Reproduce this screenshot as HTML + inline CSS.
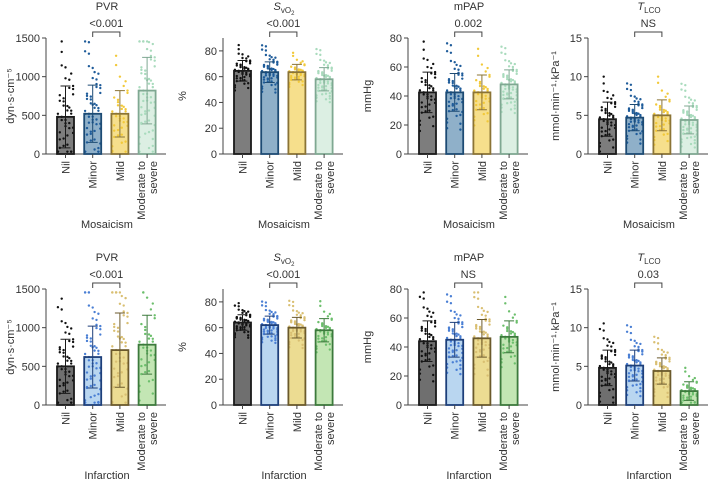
<!DOCTYPE html>
<html><head><meta charset="utf-8">
<style>
body{margin:0;background:#fff;}
svg{display:block;font-family:"Liberation Sans",sans-serif;}
</style></head>
<body>
<svg id="chart" width="712" height="485" viewBox="0 0 712 485"></svg>
<script>
const categories = ["Nil","Minor","Mild","Moderate to severe"];
const panelTitles = ["PVR","SvO2","mPAP","TLCO"];
const yMax = [1500, 90, 80, 15];
const yTicks = [[0,500,1000,1500],[0,20,40,60,80],[0,20,40,60,80],[0,5,10,15]];
const yTitles = ["dyn·s·cm⁻⁵","%","mmHg","mmol·min⁻¹·kPa⁻¹"];
const groupTitles = ["Mosaicism","Infarction"];
const pValues = [["<0.001","<0.001","0.002","NS"],["<0.001","<0.001","NS","0.03"]];
// row 0 = mosaicism, row 1 = infarction
const meansMos = [[480,520,520,820],[64.5,63.5,63.5,58],[42.5,42.5,42.5,48],[4.5,4.7,5.0,4.4]];
const sdMos = [[400,370,300,430],[8,8,6,9],[14,13,12,10],[2.2,1.7,2.0,1.8]];
const meansInf = [[500,620,710,780],[64,62,60,58],[44,45,46,47],[4.8,5.1,4.4,1.8]];
const sdInf = [[350,400,480,380],[6,7,8,9],[14,12,13,11],[2.3,2.0,1.7,1.2]];
const dotCounts = [[45,55,40,60],[50,60,55,40]];
const zPattern = [-1.6,-1.2,-0.9,-0.7,-0.5,-0.35,-0.2,-0.1,0,0.1,0.2,0.35,0.5,0.7,0.9,1.2,1.6,2.1,-1.9,1.4,-0.6,0.6,-1.0,1.0,0.3,-0.3,2.5,-1.4];

const fills = [["#7d7d7d","#8fb0c9","#f6df8c","#dcefe3"],["#6f6f6f","#b9d6f0","#ecdc92","#c3e6b4"]];
const strokes = [["#1a1a1a","#1d4b74","#8b7436","#7fa892"],["#1a1a1a","#1d3f7a","#6b5a2c","#3c7a3c"]];
const dotCols = [["#111","#1f5c9a","#f2c93a","#a9dbbd"],["#111","#4a7fd4","#d9bf72","#6cbf6c"]];

const axisX = [46,223,408,588];
const rowTop = [38,289], rowBot = [154,405];
const svg = document.getElementById('chart');
const NS = "http://www.w3.org/2000/svg";
function mk(tag, attrs, parent){const e=document.createElementNS(NS,tag);for(const k in attrs)e.setAttribute(k,attrs[k]);(parent||svg).appendChild(e);return e;}

for(let r=0;r<2;r++){
  const means = r===0?meansMos:meansInf, sds = r===0?sdMos:sdInf;
  for(let p=0;p<4;p++){
    const g = mk('g',{});
    
    
    const ax = axisX[p], top=rowTop[r], bot=rowBot[r];
    const yS = v => bot - v/yMax[p]*(bot - top);
    const topPix = yS(yMax[p]);
    const xC = i => ax + 19.5 + i*27.2;
    const t = mk('text',{x:ax+61,y:top-28,'text-anchor':'middle','font-size':11,fill:'#333'},g);
    
    
    if(p===1){t.innerHTML='<tspan font-style="italic">S</tspan><tspan font-size="8" dy="3">vO</tspan><tspan font-size="6" dy="2">2</tspan>';}
    else if(p===3){t.innerHTML='<tspan font-style="italic">T</tspan><tspan font-size="8" dy="3">LCO</tspan>';}
    else t.textContent=panelTitles[p];
    const ya = mk('line',{x1:ax,x2:ax,y1:topPix,y2:bot,stroke:'#444','stroke-width':1},g);
    
    const xa = mk('line',{x1:ax,x2:ax+120,y1:bot,y2:bot,stroke:'#444','stroke-width':1},g);
    
    yTicks[p].forEach(v=>{
      mk('line',{x1:ax-4,x2:ax,y1:yS(v),y2:yS(v),stroke:'#444'},g);
      const tl = mk('text',{x:ax-6,y:yS(v)+4,'text-anchor':'end','font-size':11,fill:'#333'},g);
      
      tl.textContent=v;
    });
    const yt = mk('text',{transform:`translate(${ax-(p===3?29:p===0?32:37)},${(top+bot)/2}) rotate(-90)`,'text-anchor':'middle','font-size':11,fill:'#333'},g);
    
    yt.textContent=yTitles[p];
    for(let i=0;i<4;i++){
      const m = means[p][i], sd = sds[p][i], xc=xC(i);
      const b = mk('rect',{x:xc-8.5,y:yS(m),width:17,height:bot-yS(m),fill:fills[r][i]},g);
      
      
      const n = dotCounts[r][i];
      for(let k=0;k<n;k++){
        let v = m + sd*zPattern[k%zPattern.length]*(1+0.04*Math.floor(k/zPattern.length));
        v = Math.max(yMax[p]*0.02, Math.min(v, yMax[p]*0.97));
        const dx = (((k*7)%9)-4)*1.9;
        const d = mk('circle',{cx:xc+dx,cy:yS(v),r:1.2,fill:dotCols[r][i]},g);
        
        
      }
      mk('rect',{x:xc-8.5,y:yS(m),width:17,height:bot-yS(m),fill:'none',stroke:strokes[r][i],'stroke-width':1.8},g);
      const e1=yS(m+sd), e0=yS(Math.max(0,m-sd));
      const eb = mk('path',{d:`M${xc},${e0}V${e1}M${xc-5},${e1}H${xc+5}M${xc-5},${e0}H${xc+5}`,stroke:strokes[r][i],'stroke-width':1,fill:'none'},g);
      
      mk('line',{x1:xc,x2:xc,y1:bot,y2:bot+4,stroke:'#444'},g);
      const cl = mk('text',{transform:`translate(${xc+4},${bot+7}) rotate(-90)`,'text-anchor':'end','font-size':11,fill:'#333'},g);
      
      if(i===3){
        cl.setAttribute('transform',`translate(${xc-2},${bot+7}) rotate(-90)`);
        cl.innerHTML='<tspan x="0" y="0">Moderate to</tspan><tspan x="0" y="12">severe</tspan>';
      } else cl.textContent=categories[i];
    }
    const by = top-6;
    const br = mk('path',{d:`M${xC(1)},${by+5}V${by}H${xC(2)}V${by+5}`,stroke:'#444',fill:'none','stroke-width':1},g);
    
    const pv = mk('text',{x:(xC(1)+xC(2))/2,y:by-5,'text-anchor':'middle','font-size':11,fill:'#333'},g);
    
    pv.textContent=pValues[r][p];
    const gt = mk('text',{x:ax+61,y:r===0?228:479,'text-anchor':'middle','font-size':11,fill:'#333'},g);
    
    gt.textContent=groupTitles[r];
  }
}
</script>
</body></html>
